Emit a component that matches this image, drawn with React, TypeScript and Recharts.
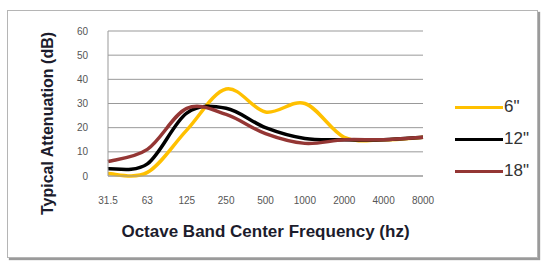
import { LineChart, Line, XAxis, YAxis, CartesianGrid, Legend } from 'recharts';

const frequencies = ['31.5', '63', '125', '250', '500', '1000', '2000', '4000', '8000'];
const six = [1, 1.5, 19, 36, 26.5, 30, 16, 15, 16];
const twelve = [3, 5, 26, 28, 20, 15.5, 15, 15, 16];
const eighteen = [6, 11, 28, 25.5, 17.5, 13.5, 15, 15, 16];
const yTicks = [0, 10, 20, 30, 40, 50, 60];
const seriesOrder = ['six', 'twelve', 'eighteen'];

const data = frequencies.map((f, i) => ({
  freq: f,
  six: six[i],
  twelve: twelve[i],
  eighteen: eighteen[i],
}));

// Excel-style smoothed line (Catmull-Rom as cubic beziers)
const excelSmooth = (context: any) => {
  let pts: number[][] = [];
  return {
    areaStart() {},
    areaEnd() {},
    lineStart() {
      pts = [];
    },
    lineEnd() {
      if (!pts.length) return;
      context.moveTo(pts[0][0], pts[0][1]);
      for (let i = 0; i < pts.length - 1; i++) {
        const p0 = pts[i - 1] || pts[i];
        const p1 = pts[i];
        const p2 = pts[i + 1];
        const p3 = pts[i + 2] || p2;
        context.bezierCurveTo(
          p1[0] + (p2[0] - p0[0]) / 6,
          p1[1] + (p2[1] - p0[1]) / 6,
          p2[0] - (p3[0] - p1[0]) / 6,
          p2[1] - (p3[1] - p1[1]) / 6,
          p2[0],
          p2[1]
        );
      }
    },
    point(x: number, y: number) {
      pts.push([+x, +y]);
    },
  };
};

const YTitle = ({ viewBox }: any) => {
  const x = viewBox.x + 15;
  const y = viewBox.y + viewBox.height / 2 + 20;
  return (
    <text
      x={x}
      y={y}
      transform={`rotate(-90, ${x}, ${y})`}
      textAnchor="middle"
      fill="#1c1c2c"
      fontSize={16}
      fontWeight="bold"
      fontFamily="'Liberation Sans', Arial, sans-serif"
    >
      Typical  Attenuation  (dB)
    </text>
  );
};

const LegendList = ({ payload }: any) => {
  const items = [...(payload || [])].sort(
    (a: any, b: any) => seriesOrder.indexOf(a.dataKey) - seriesOrder.indexOf(b.dataKey)
  );
  return (
    <div>
      {items.map((item: any) => (
        <div key={item.value} style={{ display: 'flex', alignItems: 'center', height: 32 }}>
          <div style={{ width: 48, height: 3, background: item.color }} />
          <span
            style={{
              fontFamily: "'Liberation Sans', Arial, sans-serif",
              fontSize: 17,
              color: '#333',
              marginLeft: 1,
            }}
          >
            {item.value}
          </span>
        </div>
      ))}
    </div>
  );
};

export default function App() {
  return (
    <div style={{ position: 'absolute', left: 0, top: 0, width: 547, height: 264, background: '#fff' }}>
      <div
        style={{
          position: 'absolute',
          left: 7,
          top: 10,
          width: 529,
          height: 246,
          border: '1px solid #b5b5b5',
          boxShadow: '2px 2px 1px #9a9a9a',
        }}
      />
      <LineChart
        width={547}
        height={264}
        data={data}
        margin={{ top: 31, right: 124, bottom: 20, left: 38 }}
        style={{ position: 'absolute', left: 0, top: 0 }}
      >
        <CartesianGrid vertical={false} stroke="#999" />
        <XAxis
          dataKey="freq"
          height={68}
          tickLine={false}
          axisLine={{ stroke: '#999' }}
          tickSize={6}
          tickMargin={15}
          interval={0}
          tick={{ fill: '#555', fontSize: 10, fontFamily: "'Liberation Sans', Arial, sans-serif" }}
          label={{
            value: 'Octave Band Center Frequency (hz)',
            position: 'insideBottom',
            offset: 7,
            style: {
              fill: '#1c1c2c',
              fontSize: 17,
              fontWeight: 'bold',
              fontFamily: "'Liberation Sans', Arial, sans-serif",
            },
          }}
        />
        <YAxis
          width={70}
          domain={[0, 60]}
          ticks={yTicks}
          tickLine={false}
          axisLine={{ stroke: '#999' }}
          tickSize={6}
          tickMargin={14}
          tick={{ fill: '#555', fontSize: 10, fontFamily: "'Liberation Sans', Arial, sans-serif" }}
          label={{ content: <YTitle /> }}
        />
        <Legend
          layout="vertical"
          align="center"
          verticalAlign="middle"
          wrapperStyle={{ left: 455, top: 91, width: 80 }}
          content={<LegendList />}
        />
        <Line
          type={excelSmooth as any}
          dataKey="six"
          name={'6"'}
          stroke="#FFC000"
          strokeWidth={3.5}
          dot={false}
          activeDot={false}
          isAnimationActive={false}
        />
        <Line
          type={excelSmooth as any}
          dataKey="twelve"
          name={'12"'}
          stroke="#000000"
          strokeWidth={3.5}
          dot={false}
          activeDot={false}
          isAnimationActive={false}
        />
        <Line
          type={excelSmooth as any}
          dataKey="eighteen"
          name={'18"'}
          stroke="#943634"
          strokeWidth={3.5}
          dot={false}
          activeDot={false}
          isAnimationActive={false}
        />
      </LineChart>
    </div>
  );
}
